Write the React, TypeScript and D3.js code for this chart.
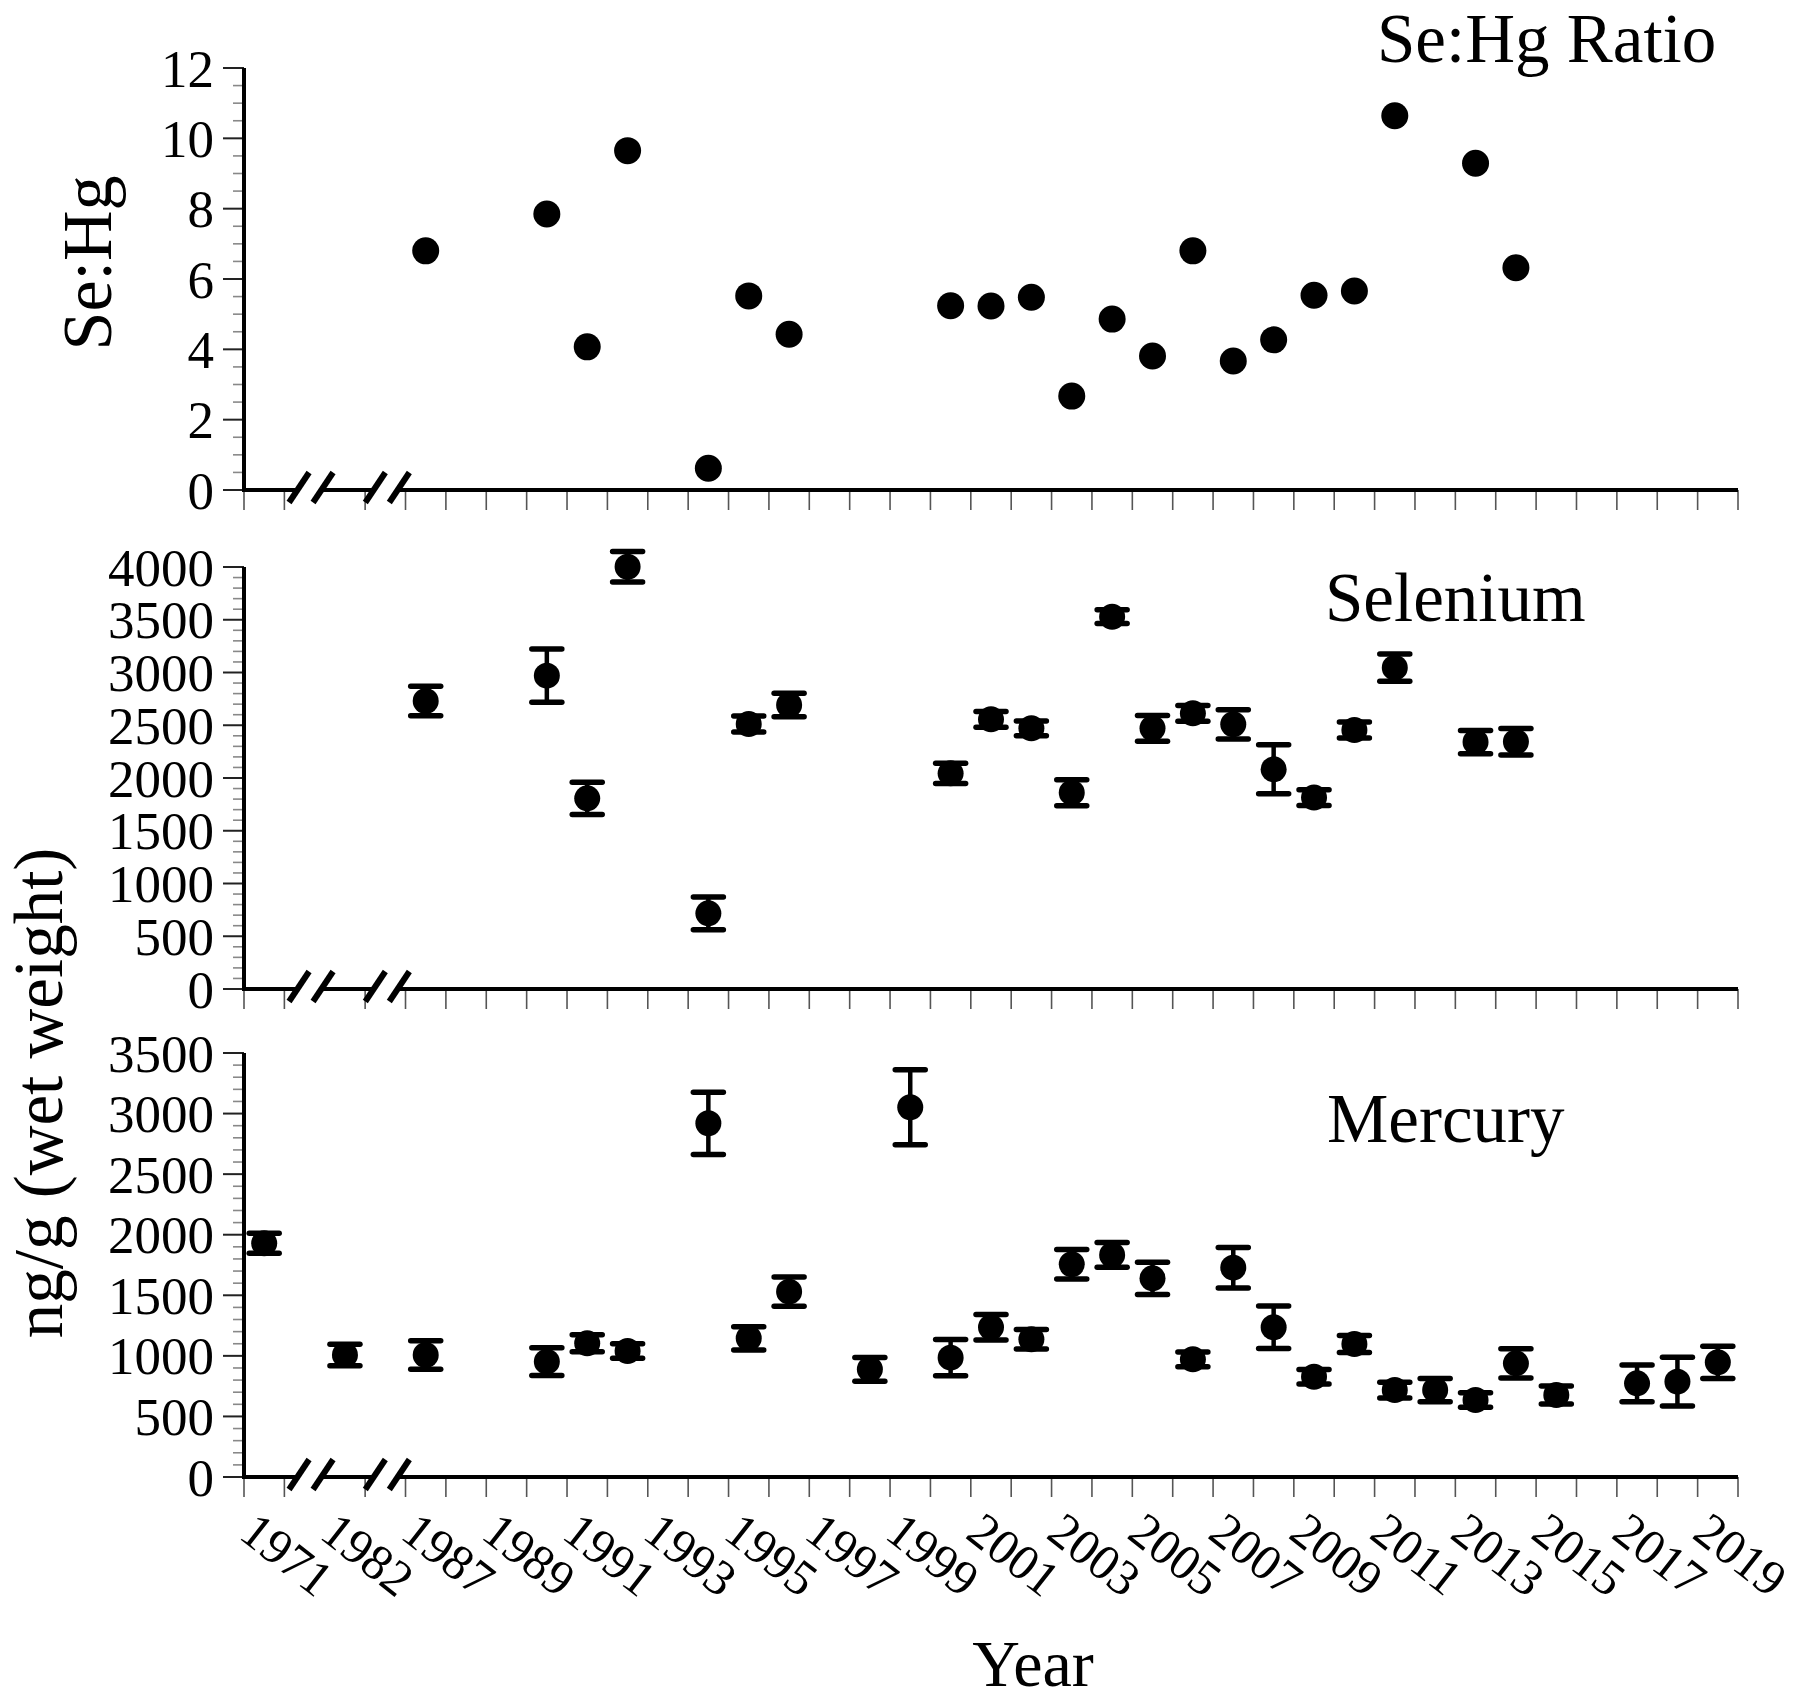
import React from 'react';
import * as d3 from 'd3';

// x categories (two axis-break slots)
const categories = ['1971', 'break1', '1982', 'break2', '1987', '1988', '1989', '1990', '1991', '1992', '1993', '1994', '1995', '1996', '1997', '1998', '1999', '2000', '2001', '2002', '2003', '2004', '2005', '2006', '2007', '2008', '2009', '2010', '2011', '2012', '2013', '2014', '2015', '2016', '2017', '2018', '2019'];
const breakSlots = ['break1', 'break2'];
const xTickLabels = ['1971', '1982', '1987', '1989', '1991', '1993', '1995', '1997', '1999', '2001', '2003', '2005', '2007', '2009', '2011', '2013', '2015', '2017', '2019'];

// Se:Hg ratio
const ratioYears = ['1987', '1990', '1991', '1992', '1994', '1995', '1996', '2000', '2001', '2002', '2003', '2004', '2005', '2006', '2007', '2008', '2009', '2010', '2011', '2013', '2014'];
const ratioValues = [6.8, 7.85, 4.07, 9.65, 0.62, 5.52, 4.43, 5.24, 5.23, 5.48, 2.67, 4.86, 3.81, 6.8, 3.67, 4.27, 5.54, 5.66, 10.64, 9.29, 6.32];

// Selenium ng/g
const seYears = ['1987', '1990', '1991', '1992', '1994', '1995', '1996', '2000', '2001', '2002', '2003', '2004', '2005', '2006', '2007', '2008', '2009', '2010', '2011', '2013', '2014'];
const seMeans = [2730, 2970, 1807, 4003, 717, 2512, 2692, 2044, 2556, 2471, 1861, 3529, 2471, 2613, 2509, 2082, 1814, 2455, 3046, 2341, 2344];
const seErrors = [139, 253, 153, 144, 155, 75, 111, 95, 75, 70, 123, 65, 122, 75, 139, 232, 75, 75, 130, 110, 126];

// Mercury ng/g
const hgYears = ['1971', '1982', '1987', '1990', '1991', '1992', '1994', '1995', '1996', '1998', '1999', '2000', '2001', '2002', '2003', '2004', '2005', '2006', '2007', '2008', '2009', '2010', '2011', '2012', '2013', '2014', '2015', '2017', '2018', '2019'];
const hgMeans = [1929, 1007, 1007, 952, 1104, 1040, 2920, 1145, 1530, 889, 3052, 985, 1236, 1137, 1756, 1833, 1640, 971, 1728, 1236, 828, 1098, 718, 718, 636, 938, 677, 773, 787, 947];
const hgErrors = [83, 89, 118, 114, 70, 60, 257, 96, 120, 98, 310, 149, 106, 80, 121, 102, 133, 60, 167, 176, 60, 70, 65, 96, 60, 120, 75, 151, 201, 133];

const ratioTicks = [0, 2, 4, 6, 8, 10, 12];
const seTicks = [0, 500, 1000, 1500, 2000, 2500, 3000, 3500, 4000];
const hgTicks = [0, 500, 1000, 1500, 2000, 2500, 3000, 3500];

const FONT = '"Liberation Serif", "Times New Roman", Times, serif';
const W = 1800;
const H = 1701;
const X0 = 244;
const X1 = 1738;

const x = d3.scaleBand<string>().domain(categories).range([X0, X1]).paddingInner(0).paddingOuter(0);
const bw = x.bandwidth();

type PanelDef = {
  top: number;
  bottom: number;
  max: number;
  ticks: number[];
  minorStep: number;
};

const panels: PanelDef[] = [
  { top: 68, bottom: 490, max: 12, ticks: ratioTicks, minorStep: 0.5 },
  { top: 567, bottom: 989, max: 4000, ticks: seTicks, minorStep: 100 },
  { top: 1053, bottom: 1477, max: 3500, ticks: hgTicks, minorStep: 100 },
];

function Axes({ p, showLabels }: { p: PanelDef; showLabels: boolean }) {
  const y = d3.scaleLinear().domain([0, p.max]).range([p.bottom, p.top]);
  const minors = d3.range(0, p.max + 1e-9, p.minorStep).filter(
    (v) => !p.ticks.some((t) => Math.abs(t - v) < 1e-9)
  );
  // x tick edges: band edges, skipping the edge hidden between break1 and 1982
  const edges: number[] = [];
  categories.forEach((c) => {
    if (c !== '1982') edges.push(x(c) as number);
  });
  edges.push(X1);
  // axis gaps around the break marks
  const gaps = breakSlots.map((b, i) => {
    const c = (x(b) as number) + bw / 2 + (i === 0 ? 5 : 0.5);
    return [c - 12, c + 12];
  });
  const segs: [number, number][] = [];
  let start = X0 - 2;
  gaps.forEach(([a, b]) => {
    segs.push([start, a]);
    start = b;
  });
  segs.push([start, X1]);
  const ay = y(0);
  return (
    <g>
      {/* x ticks */}
      {edges.map((ex, i) => (
        <line key={'xt' + i} x1={ex} x2={ex} y1={ay} y2={ay + 20} stroke="#555" strokeWidth={1.6} />
      ))}
      {/* y minor ticks */}
      {minors.map((v, i) => (
        <line key={'mn' + i} x1={X0 - 11} x2={X0} y1={y(v)} y2={y(v)} stroke="#888" strokeWidth={1.6} />
      ))}
      {/* y major ticks */}
      {p.ticks.map((v) => (
        <g key={'mj' + v}>
          <line x1={X0 - 21} x2={X0} y1={y(v)} y2={y(v)} stroke="#222" strokeWidth={2} />
          <text
            x={214}
            y={y(v)}
            dy="0.35em"
            textAnchor="end"
            fontFamily={FONT}
            fontSize={53}
            fill="#000"
          >
            {v}
          </text>
        </g>
      ))}
      {/* y axis */}
      <line x1={X0} x2={X0} y1={p.top} y2={ay + 2} stroke="#000" strokeWidth={4} />
      {/* x axis segments */}
      {segs.map(([a, b], i) => (
        <line key={'seg' + i} x1={a} x2={b} y1={ay} y2={ay} stroke="#000" strokeWidth={4} />
      ))}
      {/* break slashes */}
      {gaps.map(([a, b], i) => (
        <g key={'br' + i}>
          {[a, b].map((cx, j) => (
            <line
              key={j}
              x1={cx - 8.5}
              y1={ay + 12.5}
              x2={cx + 11.5}
              y2={ay - 17.5}
              stroke="#000"
              strokeWidth={6}
            />
          ))}
        </g>
      ))}
      {showLabels &&
        xTickLabels.map((lab) => {
          const lx = (x(lab) as number) + bw / 2 - 27;
          const ly = 1537;
          return (
            <text
              key={'xl' + lab}
              x={lx}
              y={ly}
              transform={`rotate(38, ${lx}, ${ly})`}
              fontFamily={FONT}
              fontSize={50}
              fill="#000"
            >
              {lab}
            </text>
          );
        })}
    </g>
  );
}

function ErrorPoints({ p, years, means, errors }: { p: PanelDef; years: string[]; means: number[]; errors: number[] }) {
  const y = d3.scaleLinear().domain([0, p.max]).range([p.bottom, p.top]);
  return (
    <g>
      {years.map((yr, i) => {
        const cx = (x(yr) as number) + bw / 2;
        const yHi = y(means[i] + errors[i]);
        const yLo = y(means[i] - errors[i]);
        return (
          <g key={yr}>
            <line x1={cx} x2={cx} y1={yHi} y2={yLo} stroke="#000" strokeWidth={4.5} />
            <line x1={cx - 15} x2={cx + 15} y1={yHi} y2={yHi} stroke="#000" strokeWidth={5.5} strokeLinecap="round" />
            <line x1={cx - 15} x2={cx + 15} y1={yLo} y2={yLo} stroke="#000" strokeWidth={5.5} strokeLinecap="round" />
            <circle cx={cx} cy={y(means[i])} r={13} fill="#000" />
          </g>
        );
      })}
    </g>
  );
}

export default function App() {
  const yr = d3.scaleLinear().domain([0, panels[0].max]).range([panels[0].bottom, panels[0].top]);
  return (
    <svg
      width={W}
      height={H}
      viewBox={`0 0 ${W} ${H}`}
      style={{ position: 'absolute', left: 0, top: 0, background: '#fff' }}
    >
      <rect x={0} y={0} width={W} height={H} fill="#fff" />
      {/* Panel 1: ratio */}
      <Axes p={panels[0]} showLabels={false} />
      {ratioYears.map((yy, i) => (
        <circle key={yy} cx={(x(yy) as number) + bw / 2} cy={yr(ratioValues[i])} r={13.5} fill="#000" />
      ))}
      <text x={1377} y={62} fontFamily={FONT} fontSize={69} fill="#000">
        Se:Hg Ratio
      </text>
      <text
        x={111}
        y={263}
        transform="rotate(-90, 111, 263)"
        textAnchor="middle"
        fontFamily={FONT}
        fontSize={70}
        fill="#000"
      >
        Se:Hg
      </text>

      {/* Panel 2: selenium */}
      <Axes p={panels[1]} showLabels={false} />
      <ErrorPoints p={panels[1]} years={seYears} means={seMeans} errors={seErrors} />
      <text x={1325} y={621} fontFamily={FONT} fontSize={69} fill="#000">
        Selenium
      </text>

      {/* Panel 3: mercury */}
      <Axes p={panels[2]} showLabels={true} />
      <ErrorPoints p={panels[2]} years={hgYears} means={hgMeans} errors={hgErrors} />
      <text x={1327} y={1142} fontFamily={FONT} fontSize={69} fill="#000">
        Mercury
      </text>

      {/* shared y label */}
      <text
        x={62}
        y={1093}
        transform="rotate(-90, 62, 1093)"
        textAnchor="middle"
        fontFamily={FONT}
        fontSize={69}
        fill="#000"
      >
        ng/g (wet weight)
      </text>

      {/* x label */}
      <text x={1033} y={1686} textAnchor="middle" fontFamily={FONT} fontSize={66} fill="#000">
        Year
      </text>
    </svg>
  );
}
